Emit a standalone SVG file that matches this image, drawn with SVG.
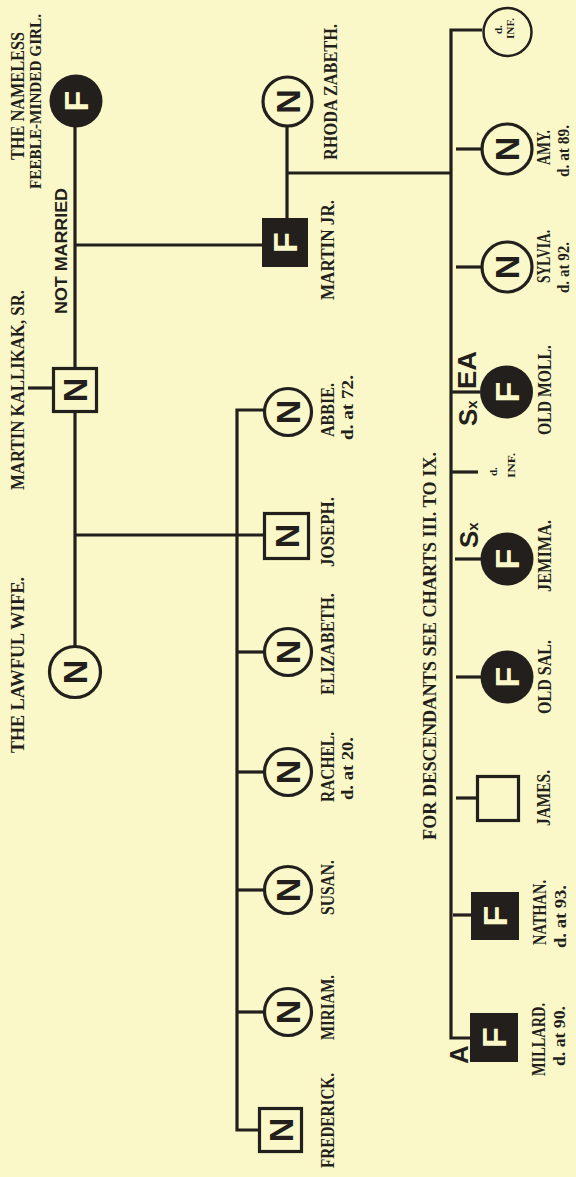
<svg xmlns="http://www.w3.org/2000/svg" width="576" height="1177" viewBox="0 0 576 1177">
<defs>
<style>
.bg{fill:#faf8c9}
.ln{fill:none;stroke:#231f1c;stroke-width:3.2;stroke-linejoin:miter}
.o{fill:#faf8c9;stroke:#231f1c;stroke-width:3.2}
.b{fill:#231f1c}
.g{font-family:"Liberation Sans",Arial,sans-serif;font-weight:bold;font-size:34px;text-anchor:middle}
.gn{fill:#231f1c}
.gf{fill:#faf8c9}
.t{font-family:"Liberation Serif","Times New Roman",serif;font-weight:bold;font-size:18px;fill:#231f1c}
.t2{font-family:"Liberation Serif","Times New Roman",serif;font-weight:bold;font-size:17px;fill:#231f1c}
.sm{font-family:"Liberation Serif","Times New Roman",serif;font-weight:bold;font-size:11px;fill:#231f1c}
.sa{font-family:"Liberation Sans",Arial,sans-serif;font-weight:bold;font-size:16px;fill:#231f1c}
.sy{font-family:"Liberation Sans",Arial,sans-serif;font-weight:bold;font-size:26px;fill:#231f1c}
</style>
</defs>
<rect width="576" height="1177" class="bg"/>
<g transform="translate(0,1177) rotate(-90)">
 <g id="connectors" class="ln">
  <path d="M505,75 H1076"/>
  <path d="M789,28 V53"/>
  <path d="M932,75 V262"/>
  <path d="M959,287 H1050"/>
  <path d="M1004,287 V451"/>
  <path d="M1147,482 V451 H139 V470"/>
  <path d="M1028,456 V482"/>
  <path d="M910,456 V482"/>
  <path d="M785,451 V480"/>
  <path d="M705,451 V478"/>
  <path d="M618,455 V481"/>
  <path d="M500,456 V481"/>
  <path d="M379,456 V477"/>
  <path d="M262,453 V471"/>
  <path d="M642,75 V264"/>
  <path d="M767,264 V237 H47 V259"/>
  <path d="M525,237 V264"/>
  <path d="M405,237 V264"/>
  <path d="M287,237 V264"/>
  <path d="M165,237 V264"/>
 </g>
 <g id="label-not-married"><text class="sa" x="863" y="67" textLength="126" lengthAdjust="spacingAndGlyphs">NOT MARRIED</text></g>
 <g id="nameless-girl">
  <circle cx="1076" cy="76" r="26.5" class="b"/>
  <text class="g gf" x="1076" y="88">F</text>
  <text class="t" x="1017" y="24" textLength="128" lengthAdjust="spacingAndGlyphs">THE NAMELESS</text>
  <text class="t" style="font-size:16px" x="988" y="41" textLength="175" lengthAdjust="spacingAndGlyphs">FEEBLE-MINDED GIRL.</text>
 </g>
 <g id="martin-sr">
  <rect x="765.5" y="53.5" width="43" height="43" class="o"/>
  <text class="g gn" x="787" y="87">N</text>
  <text class="t" x="687" y="24" textLength="200" lengthAdjust="spacingAndGlyphs">MARTIN KALLIKAK, SR.</text>
 </g>
 <g id="lawful-wife">
  <circle cx="505" cy="75" r="25.5" class="o"/>
  <text class="g gn" x="505" y="87">N</text>
  <text class="t" x="424" y="24" textLength="176" lengthAdjust="spacingAndGlyphs">THE LAWFUL WIFE.</text>
 </g>
 <g id="martin-jr">
  <rect x="910" y="262" width="49" height="46" class="b"/>
  <text class="g gf" x="934.5" y="297">F</text>
  <text class="t" x="877" y="334" textLength="100" lengthAdjust="spacingAndGlyphs">MARTIN JR.</text>
 </g>
 <g id="rhoda-zabeth">
  <circle cx="1075.5" cy="287.5" r="24.5" class="o"/>
  <text class="g gn" x="1075.5" y="299.5">N</text>
  <text class="t" x="1017" y="337" textLength="136" lengthAdjust="spacingAndGlyphs">RHODA ZABETH.</text>
 </g>
 <g id="abbie">
  <circle cx="765" cy="288" r="23.5" class="o"/>
  <text class="g gn" x="765" y="300">N</text>
  <text class="t" x="740" y="334" textLength="54" lengthAdjust="spacingAndGlyphs">ABBIE.</text>
  <text class="t2" x="737" y="353" textLength="65" lengthAdjust="spacingAndGlyphs">d. at 72.</text>
 </g>
 <g id="joseph">
  <rect x="618.5" y="264.5" width="45" height="44" class="o"/>
  <text class="g gn" x="641" y="298.5">N</text>
  <text class="t" x="610" y="334" textLength="70" lengthAdjust="spacingAndGlyphs">JOSEPH.</text>
 </g>
 <g id="elizabeth">
  <circle cx="525" cy="288" r="23.5" class="o"/>
  <text class="g gn" x="525" y="300">N</text>
  <text class="t" x="482" y="334" textLength="102" lengthAdjust="spacingAndGlyphs">ELIZABETH.</text>
 </g>
 <g id="rachel">
  <circle cx="405" cy="288" r="23.5" class="o"/>
  <text class="g gn" x="405" y="300">N</text>
  <text class="t" x="375" y="334" textLength="70" lengthAdjust="spacingAndGlyphs">RACHEL.</text>
  <text class="t2" x="377" y="353" textLength="63" lengthAdjust="spacingAndGlyphs">d. at 20.</text>
 </g>
 <g id="susan">
  <circle cx="287" cy="288" r="23.5" class="o"/>
  <text class="g gn" x="287" y="300">N</text>
  <text class="t" x="262" y="334" textLength="55" lengthAdjust="spacingAndGlyphs">SUSAN.</text>
 </g>
 <g id="miriam">
  <circle cx="165" cy="288" r="23.5" class="o"/>
  <text class="g gn" x="165" y="300">N</text>
  <text class="t" x="137" y="334" textLength="65" lengthAdjust="spacingAndGlyphs">MIRIAM.</text>
 </g>
 <g id="frederick">
  <rect x="25.5" y="259.5" width="43" height="42" class="o"/>
  <text class="g gn" x="47" y="292.5">N</text>
  <text class="t" x="9" y="334" textLength="95" lengthAdjust="spacingAndGlyphs">FREDERICK.</text>
 </g>
 <g id="infant-1">
  <circle cx="1145" cy="507.5" r="24" class="o" style="stroke-width:2.5"/>
  <text class="sm" x="1143" y="502">d.</text>
  <text class="sm" x="1138" y="514" textLength="21" lengthAdjust="spacingAndGlyphs">INF.</text>
 </g>
 <g id="amy">
  <circle cx="1028" cy="507" r="25" class="o"/>
  <text class="g gn" x="1028" y="519">N</text>
  <text class="t" x="1012" y="550" textLength="35" lengthAdjust="spacingAndGlyphs">AMY.</text>
  <text class="t2" x="1000" y="569" textLength="52" lengthAdjust="spacingAndGlyphs">d. at 89.</text>
 </g>
 <g id="sylvia">
  <circle cx="910" cy="507" r="25" class="o"/>
  <text class="g gn" x="910" y="519">N</text>
  <text class="t" x="894" y="550" textLength="53" lengthAdjust="spacingAndGlyphs">SYLVIA.</text>
  <text class="t2" x="884" y="569" textLength="51" lengthAdjust="spacingAndGlyphs">d. at 92.</text>
 </g>
 <g id="old-moll">
  <circle cx="785" cy="506.5" r="26.5" class="b"/>
  <text class="g gf" x="785" y="518.5">F</text>
  <text class="sy" x="751" y="477">S<tspan style="font-size:15px">x</tspan></text>
  <text class="sy" x="788" y="476" textLength="38" lengthAdjust="spacingAndGlyphs">EA</text>
  <text class="t" x="742" y="551" textLength="90" lengthAdjust="spacingAndGlyphs">OLD MOLL.</text>
 </g>
 <g id="infant-2">
  <text class="sm" x="701" y="497">d.</text>
  <text class="sm" x="699" y="515" textLength="25" lengthAdjust="spacingAndGlyphs">INF.</text>
 </g>
 <g id="jemima">
  <circle cx="618" cy="507" r="26.5" class="b"/>
  <text class="g gf" x="618" y="519">F</text>
  <text class="sy" x="629" y="478">S<tspan style="font-size:15px">x</tspan></text>
  <text class="t" x="585" y="551" textLength="72" lengthAdjust="spacingAndGlyphs">JEMIMA.</text>
 </g>
 <g id="old-sal">
  <circle cx="500" cy="507" r="26.5" class="b"/>
  <text class="g gf" x="500" y="519">F</text>
  <text class="t" x="463" y="551" textLength="74" lengthAdjust="spacingAndGlyphs">OLD SAL.</text>
 </g>
 <g id="james">
  <rect x="356.5" y="477.5" width="44" height="41" class="o"/>
  <text class="t" x="351" y="550" textLength="56" lengthAdjust="spacingAndGlyphs">JAMES.</text>
 </g>
 <g id="nathan">
  <rect x="237" y="471" width="48" height="48" class="b"/>
  <text class="g gf" x="261" y="507">F</text>
  <text class="t" x="232" y="546" textLength="65" lengthAdjust="spacingAndGlyphs">NATHAN.</text>
  <text class="t2" x="229" y="566" textLength="63" lengthAdjust="spacingAndGlyphs">d. at 93.</text>
 </g>
 <g id="millard">
  <rect x="115" y="470" width="49" height="48" class="b"/>
  <text class="g gf" x="139.5" y="506">F</text>
  <text class="sy" x="113" y="468">A</text>
  <text class="t" x="101" y="545" textLength="73" lengthAdjust="spacingAndGlyphs">MILLARD.</text>
  <text class="t2" x="111" y="565" textLength="60" lengthAdjust="spacingAndGlyphs">d. at 90.</text>
 </g>
 <g id="note">
  <text class="t" x="337" y="436" textLength="388" lengthAdjust="spacingAndGlyphs">FOR DESCENDANTS SEE CHARTS III. TO IX.</text>
 </g>
</g>
</svg>
